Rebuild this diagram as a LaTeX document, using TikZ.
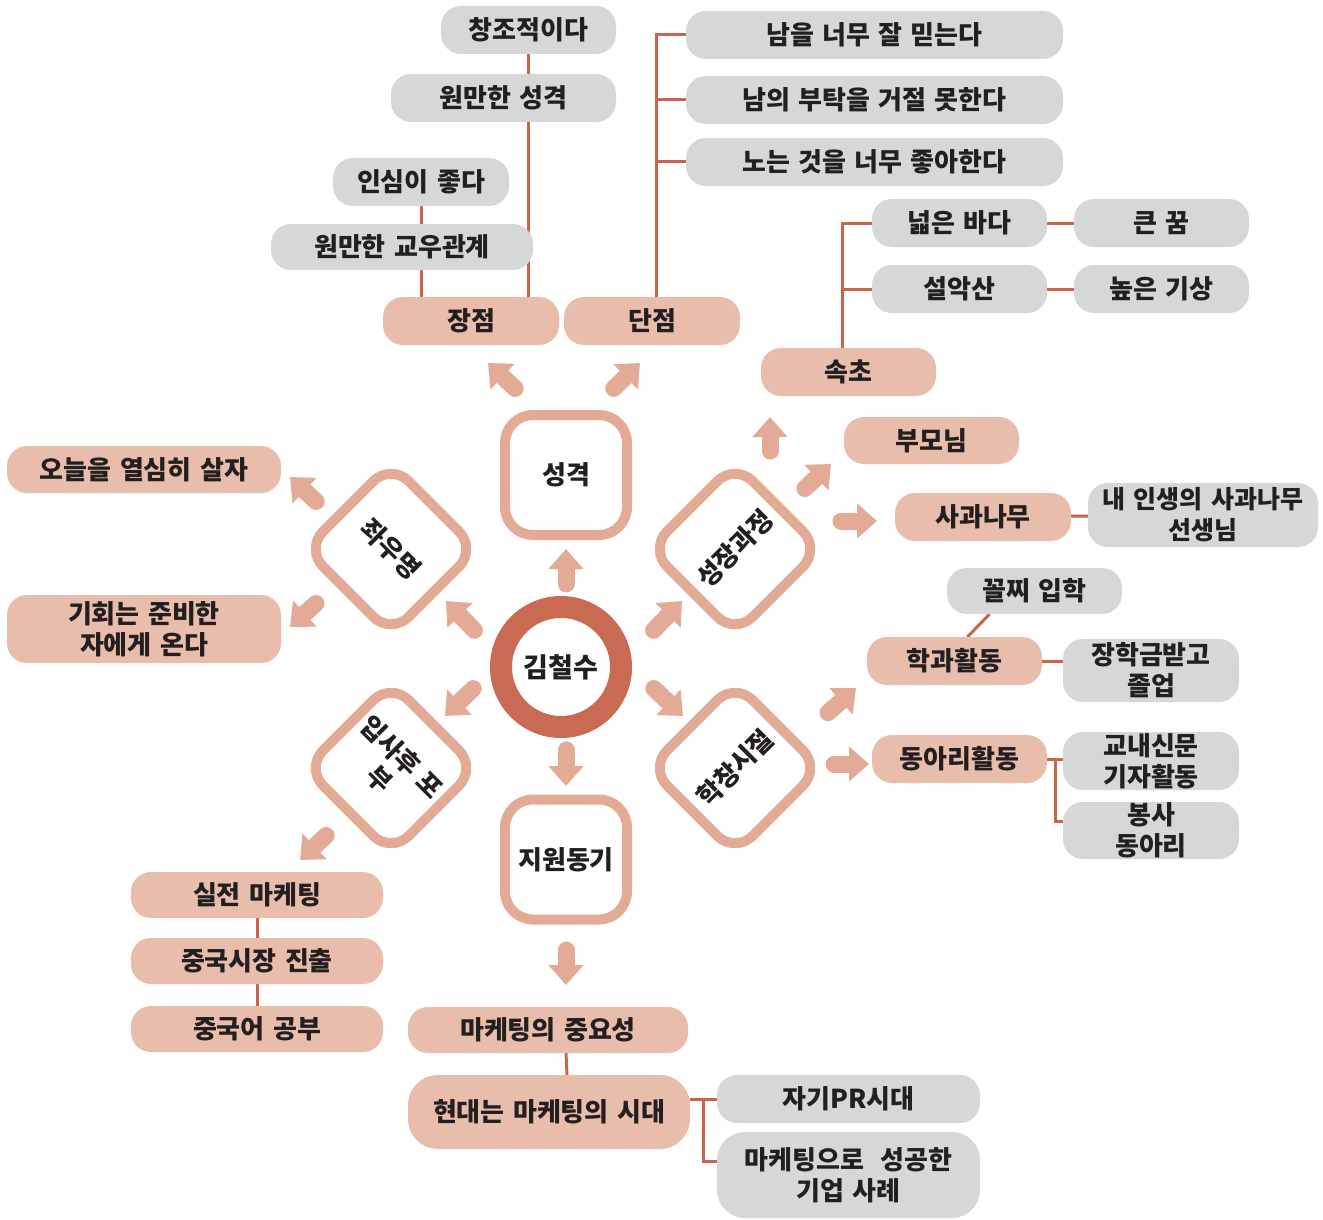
\documentclass[tikz,border=0pt]{standalone}
\usepackage{fontspec}
\setmainfont{Noto Sans CJK KR}[WordSpace=1.4]
\usetikzlibrary{arrows.meta,calc}
\pgfdeclarelayer{bg}
\pgfsetlayers{bg,main}
\definecolor{pinkf}{HTML}{E9BDAB}
\definecolor{grayf}{HTML}{D6D7D9}
\definecolor{linec}{HTML}{C8654A}
\definecolor{arrc}{HTML}{E3AB96}
\definecolor{ringc}{HTML}{C96A52}
\definecolor{txt}{HTML}{231F20}
\newcommand\bx[7]{\node[#2, minimum width={(#5-#3)*1pt}, minimum height={(#6-#4)*1pt}] (#1) at ({(#3+#5)/2},{(#4+#6)/2}) {#7};}
\newcommand\blkarrow[3]{\coordinate (#1s) at #2; \coordinate (#1e) at #3; \draw[blk] (#1s) -- (#1e);}
\begin{document}
\begin{tikzpicture}[x=1pt,y=-1pt,
  lbl/.style={text=txt, font=\fontsize{26}{31}\selectfont\bfseries},
  box/.style={lbl, rounded corners=20pt, inner sep=0pt, align=center},
  pbox/.style={box, fill=pinkf},
  gbox/.style={box, fill=grayf},
  conn/.style={draw=linec, line width=3pt},
  sq/.style={lbl, draw=arrc, line width=10pt, rounded corners=28pt, minimum width=122pt, minimum height=120pt, inner sep=0pt, fill=white},
  dm/.style={lbl, draw=arrc, line width=10pt, rounded corners=25pt, minimum size=121pt, inner sep=0pt, fill=white, align=center},
  blk/.style={draw=arrc, line width=17pt, line cap=round, shorten <=8pt, -{Triangle[length=20pt,width=34pt]}}
]
\useasboundingbox (0,0) rectangle (1323,1220);

% ---- top: 장점 / 단점
\bx{cj}{gbox}{441}{6}{616}{54}{창조적이다}
\bx{wms}{gbox}{391}{74}{616}{122}{원만한 성격}
\bx{is}{gbox}{333}{158}{509}{206}{인심이 좋다}
\bx{wmg}{gbox}{271}{224}{533}{270}{원만한 교우관계}
\bx{jj}{pbox}{383}{297}{559}{345}{장점}
\bx{dj}{pbox}{564}{297}{740}{345}{단점}
\bx{n1}{gbox}{686}{11}{1063}{59}{남을 너무 잘 믿는다}
\bx{n2}{gbox}{686}{76}{1063}{124}{남의 부탁을 거절 못한다}
\bx{n3}{gbox}{686}{138}{1063}{186}{노는 것을 너무 좋아한다}
\coordinate (djx) at (656,0);

% ---- right top: 속초 etc.
\bx{nb}{gbox}{872}{199}{1047}{247}{넓은 바다}
\bx{kk}{gbox}{1074}{199}{1249}{247}{큰 꿈}
\bx{sa}{gbox}{872}{265}{1047}{313}{설악산}
\bx{ng}{gbox}{1074}{265}{1249}{313}{높은 기상}
\bx{sc}{pbox}{761}{348}{936}{396}{속초}
\coordinate (scx) at (842,0);
\bx{bm}{pbox}{844}{417}{1019}{464}{부모님}
\bx{sg}{pbox}{895}{493}{1071}{541}{사과나무}
\bx{sn}{gbox, font=\fontsize{25}{31}\selectfont\bfseries}{1088}{483}{1318}{547}{내 인생의 사과나무\\선생님}

% ---- right bottom: 학창시절
\bx{kj}{gbox}{947}{568}{1122}{614}{꼴찌 입학}
\bx{hg}{pbox}{867}{637}{1042}{685}{학과활동}
\bx{jh}{gbox}{1063}{639}{1239}{702}{장학금받고\\졸업}
\bx{da}{pbox}{872}{735}{1047}{783}{동아리활동}
\bx{gn}{gbox}{1063}{732}{1239}{790}{교내신문\\기자활동}
\bx{bs}{gbox}{1063}{802}{1239}{859}{봉사\\동아리}
\coordinate (dax) at (1055,0);

% ---- left
\bx{og}{pbox}{7}{446}{281}{493}{오늘을 열심히 살자}
\bx{gh}{pbox}{7}{595}{281}{663}{기회는 준비한\\자에게 온다}
\bx{sm}{pbox}{131}{872}{383}{918}{실전 마케팅}
\bx{jc}{pbox}{131}{938}{383}{984}{중국시장 진출}
\bx{jg}{pbox}{131}{1006}{383}{1052}{중국어 공부}

% ---- bottom
\bx{mj}{pbox}{408}{1007}{688}{1053}{마케팅의 중요성}
\node[pbox, rounded corners=30pt, minimum width=282pt, minimum height=74pt] (hd) at (549,1112) {현대는 마케팅의 시대};
\bx{pr}{gbox}{717}{1075}{980}{1123}{자기PR시대}
\node[gbox, rounded corners=28pt, minimum width=263pt, minimum height=86pt] (sr) at (848.5,1175) {마케팅으로~~성공한\\기업 사례};
\coordinate (hdx) at (703,0);

% ---- central hub
\node[circle, draw=ringc, line width=22pt, minimum size=120pt, inner sep=0pt, fill=white, text=txt, font=\fontsize{27}{30}\selectfont\bfseries] (c) at (561,667) {김철수};
\node[sq] (sk) at (566,475) {성격};
\node[sq] (jw) at (566,859.5) {지원동기};
\node[dm, rotate=-45] (zw) at (391,549) {좌우명};
\node[dm, rotate=45] (sj) at (735,549) {성장과정};
\node[dm, rotate=-45] (ip) at (391,768) {입사후 포\\부};
\node[dm, rotate=45] (hc) at (735,768) {학창시절};

% ---- connector lines (behind boxes)
\begin{pgfonlayer}{bg}
\fill[white] (0,0) rectangle (1323,1220);
\draw[conn] (cj.south) -- (cj.south |- jj.north);
\draw[conn] (is.south) -- (is.south |- jj.north);
\draw[conn] (dj.north -| djx) |- (n1.west);
\draw[conn] (dj.north -| djx) |- (n2.west);
\draw[conn] (dj.north -| djx) |- (n3.west);
\draw[conn] (sc.north -| scx) |- (nb.west);
\draw[conn] (sc.north -| scx) |- (sa.west);
\draw[conn] (nb) -- (kk);
\draw[conn] (sa) -- (ng);
\draw[conn] (sg) -- (sn);
\draw[conn] ($(kj.south)+(-45,0)$) -- ($(hg.north)+(13,0)$);
\draw[conn] (hg.east) -- (hg.east -| jh.west);
\draw[conn] (da.east) -- (da.east -| gn.west);
\draw[conn] (da.east -| dax) |- ($(bs.west)+(0,-9)$);
\draw[conn] (sm.south) -- (jc.north);
\draw[conn] (jc.south) -- (jg.north);
\draw[conn] ($(mj.south)+(18,0)$) -- ($(hd.north)+(18,0)$);
\draw[conn] (pr.west) -- (pr.west -| hd.east);
\draw[conn] (pr.west -| hdx) |- ($(sr.west)+(0,-14)$);
\end{pgfonlayer}

% ---- block arrows
\blkarrow{a1}{(566,592)}{(566,549)}
\blkarrow{a2}{(566,742)}{(566,786)}
\blkarrow{a3}{(480,636)}{(446,601)}
\blkarrow{a4}{(648,636)}{(682,601)}
\blkarrow{a5}{(479,683)}{(445,716)}
\blkarrow{a6}{(648,683)}{(683,716)}
\blkarrow{a7}{(521,394)}{(488,363)}
\blkarrow{a8}{(608,394)}{(640,363)}
\blkarrow{a9}{(322,507)}{(290,477)}
\blkarrow{a10}{(322,598)}{(290,627)}
\blkarrow{a11}{(332,830)}{(300,860)}
\blkarrow{a12}{(566,942)}{(566,985)}
\blkarrow{a13}{(770,459)}{(770,417)}
\blkarrow{a14}{(799,494)}{(831,464)}
\blkarrow{a15}{(833,521)}{(877,521)}
\blkarrow{a16}{(822,718)}{(856,688)}
\blkarrow{a17}{(826,764)}{(869,764)}
\end{tikzpicture}
\end{document}
